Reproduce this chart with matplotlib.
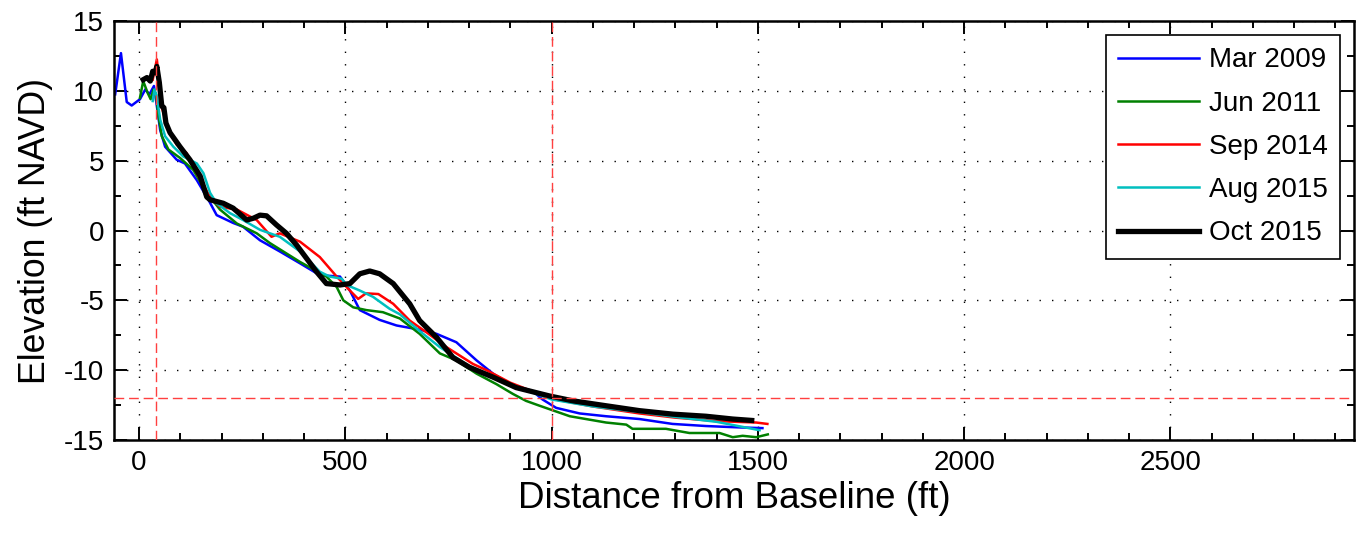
import matplotlib
matplotlib.use("Agg")
import matplotlib.pyplot as plt
from matplotlib.ticker import MultipleLocator

# Profile survey data (distance ft, elevation ft NAVD)
mar2009_x = [-58, -44, -30, -18, 2, 15, 25, 36, 43, 51, 63, 91, 111, 140, 168, 188, 228, 252,
             293, 341, 390, 438, 487, 511, 535, 583, 624, 680, 721, 769, 818, 858, 898, 954,
             978, 1011, 1068, 1132, 1213, 1293, 1374, 1455, 1511]
mar2009_y = [9.75, 12.7, 9.2, 8.95, 9.4, 10.1, 9.75, 10.35, 8.9, 7.2, 6.0, 5.07, 4.8, 3.6, 2.2,
             1.1, 0.54, 0.27, -0.7, -1.5, -2.35, -3.2, -3.3, -4.3, -5.7, -6.4, -6.8, -7.1,
             -7.4, -8.0, -9.3, -10.25, -11.0, -11.5, -12.1, -12.7, -13.1, -13.3, -13.5,
             -13.85, -14.0, -14.1, -14.15]

jun2011_x = [2, 10, 20, 28, 35, 41, 47, 55, 71, 99, 131, 164, 196, 237, 285, 317, 390, 454,
             479, 495, 519, 551, 591, 632, 680, 729, 769, 818, 866, 906, 938, 971, 1044,
             1132, 1181, 1196, 1277, 1334, 1407, 1439, 1463, 1496, 1524]
jun2011_y = [9.5, 10.7, 9.9, 9.4, 10.1, 9.75, 8.2, 6.75, 5.8, 5.2, 4.35, 2.7, 1.5, 0.5, -0.2,
             -0.9, -2.25, -3.3, -4.05, -5.0, -5.5, -5.7, -5.85, -6.3, -7.4, -8.8, -9.3,
             -10.25, -11.0, -11.7, -12.2, -12.55, -13.3, -13.75, -13.9, -14.2, -14.2, -14.5,
             -14.5, -14.8, -14.7, -14.8, -14.6]

sep2014_x = [33, 43, 47, 54, 71, 91, 115, 123, 140, 172, 196, 237, 285, 321, 341, 390, 438,
             479, 511, 531, 550, 580, 616, 656, 697, 745, 809, 842, 900, 1000, 1100, 1213,
             1300, 1400, 1496, 1523]
sep2014_y = [10.8, 12.25, 11.1, 8.9, 7.2, 6.15, 5.55, 5.07, 4.1, 2.4, 1.7, 1.5, 0.75, -0.45,
             -0.2, -0.8, -1.9, -3.3, -4.3, -4.9, -4.5, -4.55, -5.25, -6.45, -7.3, -8.35,
             -9.55, -10.0, -10.9, -12.05, -12.6, -13.1, -13.4, -13.65, -13.75, -13.85]

aug2015_x = [33, 37, 43, 51, 63, 83, 107, 140, 156, 172, 188, 220, 252, 293, 341, 390, 438,
             462, 491, 503, 535, 567, 607, 632, 680, 729, 800, 880, 1000, 1100, 1213, 1300,
             1400, 1504]
aug2015_y = [9.27, 10.1, 9.6, 7.95, 6.75, 6.0, 5.3, 4.8, 4.1, 2.7, 1.95, 1.25, 0.75, 0.05,
             -0.45, -1.5, -2.95, -3.3, -3.45, -3.9, -4.3, -4.75, -5.6, -6.0, -7.2, -8.35,
             -9.7, -10.8, -12.1, -12.6, -13.0, -13.35, -13.7, -14.3]

oct2015_x = [10, 19, 27, 33, 39, 43, 49, 55, 60, 65, 75, 99, 123, 148, 164, 172, 204, 228,
             261, 277, 293, 309, 333, 357, 382, 406, 430, 454, 487, 511, 535, 559, 583, 616,
             656, 680, 721, 761, 801, 858, 914, 995, 1052, 1132, 1213, 1294, 1374, 1439, 1485]
oct2015_y = [10.8, 10.95, 10.7, 11.4, 11.3, 11.75, 10.6, 8.9, 8.8, 7.7, 7.0, 6.0, 5.07, 3.9,
             2.4, 2.2, 1.95, 1.6, 0.75, 0.88, 1.1, 1.05, 0.4, -0.2, -1.05, -2.0, -2.95, -3.8,
             -3.9, -3.8, -3.1, -2.9, -3.1, -3.8, -5.25, -6.45, -7.65, -9.1, -9.8, -10.5,
             -11.25, -11.85, -12.2, -12.55, -12.9, -13.15, -13.3, -13.5, -13.6]

labels = ["Mar 2009", "Jun 2011", "Sep 2014", "Aug 2015", "Oct 2015"]

# reference lines
ref_x = [40, 1000]
ref_y = -12

plt.rcParams["font.family"] = "Liberation Sans"
plt.rcParams["axes.unicode_minus"] = False

fig = plt.figure(figsize=(13.63, 5.39), dpi=100)
ax = fig.add_axes([0.0836, 0.1837, 0.9098, 0.7773])

ax.plot(mar2009_x, mar2009_y, color=(0, 0, 1), lw=1.8, label=labels[0])
ax.plot(jun2011_x, jun2011_y, color=(0, 0.5, 0), lw=1.8, label=labels[1])
ax.plot(sep2014_x, sep2014_y, color=(1, 0, 0), lw=1.8, label=labels[2])
ax.plot(aug2015_x, aug2015_y, color=(0, 0.75, 0.75), lw=1.8, label=labels[3])
ax.plot(oct2015_x, oct2015_y, color="black", lw=3.8, label=labels[4])

for xv in ref_x:
    ax.axvline(xv, color="#ff4040", lw=1.0, dashes=(7, 3.5), zorder=5)
ax.axhline(ref_y, color="#ff4040", lw=1.0, dashes=(7, 3.5), zorder=5)

ax.set_xlim(-61, 2945)
ax.set_ylim(-15, 15)
ax.xaxis.set_major_locator(MultipleLocator(500))
ax.xaxis.set_minor_locator(MultipleLocator(100))
ax.yaxis.set_major_locator(MultipleLocator(5))
ax.yaxis.set_minor_locator(MultipleLocator(2.5))

ax.grid(True, which="major", color="black", lw=1.0, linestyle=(0, (1, 8)))
ax.tick_params(which="both", direction="in", top=True, right=True, width=1.4,
               labelsize=20, pad=7)
ax.tick_params(which="major", length=9.4)
ax.tick_params(which="minor", length=5)
for s in ax.spines.values():
    s.set_linewidth(1.8)

ax.set_xlabel("Distance from Baseline (ft)", fontsize=26.5, labelpad=4)
ax.set_ylabel("Elevation (ft NAVD)", fontsize=25.7, labelpad=8)

leg = ax.legend(loc="upper right", fontsize=20, handlelength=2.9, handletextpad=0.35,
                labelspacing=0.62, borderpad=0.45, borderaxespad=0.5, fancybox=False,
                framealpha=1, edgecolor="black")
leg.get_frame().set_linewidth(1.2)

fig.savefig("out.png", dpi=100)
